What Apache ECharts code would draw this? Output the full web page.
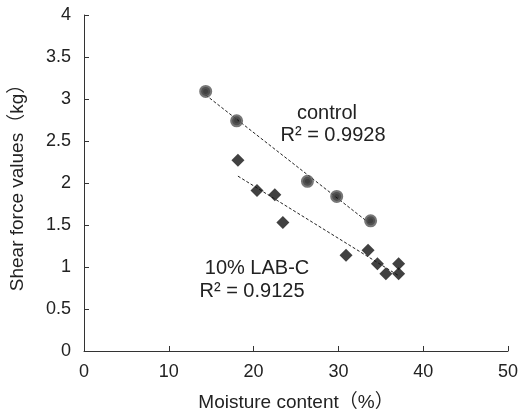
<!DOCTYPE html>
<html><head><meta charset="utf-8">
<script src="https://cdn.jsdelivr.net/npm/echarts@6/dist/echarts.min.js"></script>
<style>html,body{margin:0;padding:0;background:#fff}#c{width:522px;height:417px}</style>
</head><body><div id="c"></div>
<script>
// Data
const controlX = [14.35, 18.0, 26.35, 29.8, 33.8];
const controlY = [3.09, 2.74, 2.02, 1.84, 1.55];
const labX = [18.15, 20.4, 22.5, 23.45, 30.9, 33.5, 34.6, 35.6, 37.1, 37.1];
const labY = [2.27, 1.91, 1.86, 1.53, 1.14, 1.20, 1.04, 0.92, 1.04, 0.92];
const controlLabel = ['control', 'R² = 0.9928'];
const labLabel = ['10% LAB-C', 'R² = 0.9125'];
const xTitle = 'Moisture content（%）';
const yTitle = 'Shear force values（kg）';

function pairs(xs, ys){ return xs.map((x,i)=>[x, ys[i]]); }
function fit(xs, ys){
  const n = xs.length;
  const mx = xs.reduce((a,b)=>a+b,0)/n, my = ys.reduce((a,b)=>a+b,0)/n;
  let sxx=0, sxy=0;
  for(let i=0;i<n;i++){ sxx+=(xs[i]-mx)**2; sxy+=(xs[i]-mx)*(ys[i]-my); }
  const b = sxy/sxx, a = my - b*mx;
  const x0 = Math.min(...xs), x1 = Math.max(...xs);
  return [[x0, a+b*x0],[x1, a+b*x1]];
}
const FONT = '"Liberation Sans", Arial, "Noto Sans CJK JP", sans-serif';
const chart = echarts.init(document.getElementById('c'));
const axisCommon = {
  axisLine:{show:true, onZero:false, lineStyle:{color:'#333', width:1}},
  axisTick:{show:true, inside:true, length:5, lineStyle:{color:'#333'}},
  splitLine:{show:false},
  nameTextStyle:{color:'#222', fontSize:19, fontFamily:FONT},
  nameLocation:'middle'
};
chart.setOption({
  animation:false,
  backgroundColor:'#fff',
  grid:{left:83, right:14, top:15, bottom:65},
  xAxis:Object.assign({type:'value', min:0, max:50, interval:10, name:xTitle, nameGap:42}, axisCommon,
    {axisLabel:{color:'#222', fontSize:18, fontFamily:FONT, margin:12}}),
  yAxis:Object.assign({type:'value', min:0, max:4, interval:0.5, name:yTitle, nameGap:57}, axisCommon,
    {axisLabel:{color:'#222', fontSize:18, fontFamily:FONT, margin:13}}),
  series:[
    {type:'line', data:fit(controlX, controlY), symbol:'none', lineStyle:{color:'#222', width:1, type:[3,2]}, z:1},
    {type:'line', data:fit(labX, labY), symbol:'none', lineStyle:{color:'#222', width:1, type:[3,2]}, z:1},
    {type:'scatter', data:pairs(controlX, controlY), symbol:'circle', symbolSize:9,
      itemStyle:{color:'#111', borderColor:'#555', borderWidth:4}, z:3},
    {type:'scatter', data:pairs(labX, labY), symbol:'diamond', symbolSize:13,
      itemStyle:{color:'#111'}, z:3}
  ],
  graphic:[
    {type:'text', x:327, y:113, style:{text:controlLabel[0], fontSize:20, fontFamily:FONT, fill:'#222', align:'center', verticalAlign:'middle'}},
    {type:'text', x:333, y:135, style:{text:controlLabel[1], fontSize:20, fontFamily:FONT, fill:'#222', align:'center', verticalAlign:'middle'}},
    {type:'text', x:257, y:268, style:{text:labLabel[0], fontSize:20, fontFamily:FONT, fill:'#222', align:'center', verticalAlign:'middle'}},
    {type:'text', x:252, y:291, style:{text:labLabel[1], fontSize:20, fontFamily:FONT, fill:'#222', align:'center', verticalAlign:'middle'}}
  ]
});
</script></body></html>
